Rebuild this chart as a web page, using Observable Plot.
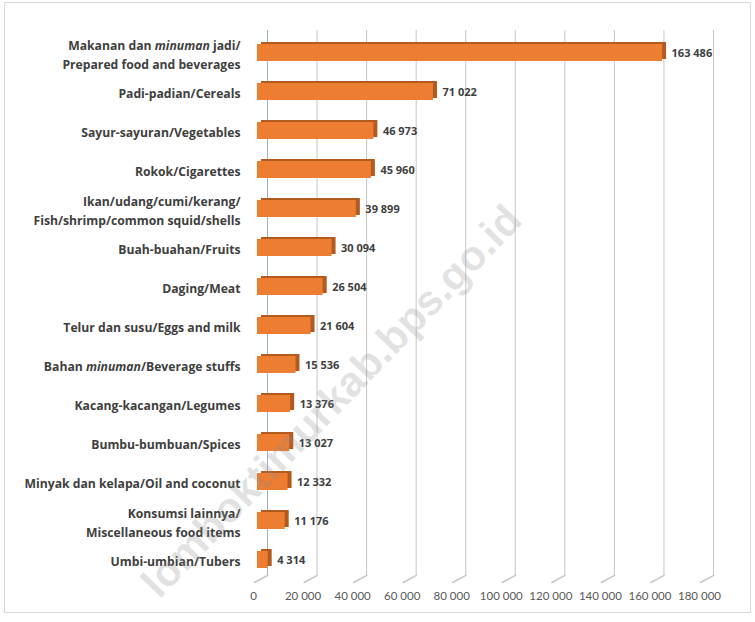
<!DOCTYPE html>
<html><head><meta charset="utf-8">
<script src="https://cdn.jsdelivr.net/npm/d3@7"></script>
<script src="https://cdn.jsdelivr.net/npm/@observablehq/plot@0.6"></script>
<style>
body{margin:0;background:#fff;}
#wrap{position:relative;width:755px;height:622px;overflow:hidden;}
#border{position:absolute;left:4px;top:2px;width:747px;height:611px;border:1px solid #d9d9d9;box-sizing:border-box;pointer-events:none}
#wm{position:absolute;left:0;top:0;pointer-events:none}
</style></head><body>
<div id="wrap"><div id="chart"></div><div id="border"></div>
<svg id="wm" width="755" height="622"><text x="524" y="222" text-anchor="end" transform="rotate(-46,524,222)" font-family="Liberation Sans, Arial" font-weight="bold" font-size="42" fill="rgba(140,140,140,0.25)">lomboktimurkab.bps.go.id</text></svg>
</div>
<script>
const categories = [
  "Makanan dan minuman jadi/\nPrepared food and beverages",
  "Padi-padian/Cereals",
  "Sayur-sayuran/Vegetables",
  "Rokok/Cigarettes",
  "Ikan/udang/cumi/kerang/\nFish/shrimp/common squid/shells",
  "Buah-buahan/Fruits",
  "Daging/Meat",
  "Telur dan susu/Eggs and milk",
  "Bahan minuman/Beverage stuffs",
  "Kacang-kacangan/Legumes",
  "Bumbu-bumbuan/Spices",
  "Minyak dan kelapa/Oil and coconut",
  "Konsumsi lainnya/\nMiscellaneous food items",
  "Umbi-umbian/Tubers"
];
const values = [163486, 71022, 46973, 45960, 39899, 30094, 26504, 21604, 15536, 13376, 13027, 12332, 11176, 4314];
const xTicks = [0, 20000, 40000, 60000, 80000, 100000, 120000, 140000, 160000, 180000];

const data = categories.map((c, i) => ({category: c, value: values[i]}));
const fmt = v => d3.format(",")(v).replace(/,/g, " ");

const plot = Plot.plot({
  width: 755, height: 622,
  marginLeft: 257, marginRight: 52, marginTop: 32, marginBottom: 42,
  style: {fontFamily: "Lato, sans-serif", background: "transparent", color: "#595959", fontSize: "11.5px"},
  x: {domain: [0, 180000], label: null},
  y: {domain: categories, axis: null, paddingInner: 0.56, paddingOuter: 0.29},
  marks: [
    Plot.ruleX(xTicks.filter(d => d !== 0), {dx: 10, stroke: "#c6c6c6", insetTop: -2, insetBottom: 5}),
    Plot.ruleX([0], {dx: 10, stroke: "#9fb2cc", insetTop: -2, insetBottom: 5}),
    Plot.vector(xTicks, {x: d => d, frameAnchor: "bottom", dx: -3, dy: 2, rotate: 62, length: 15, anchor: "start", stroke: "#c6c6c6",
      shape: {draw(ctx, l) { ctx.moveTo(0, 0); ctx.lineTo(0, -l); }}}),
    Plot.barX(data, {y: "category", x: "value", fill: "#b35a1f", dx: 4, dy: -2}),
    Plot.barX(data, {y: "category", x: "value", fill: "#ED7D31"}),
    Plot.text(data, {y: "category", x: "value", text: d => fmt(d.value), dx: 9, textAnchor: "start",
      fontFamily: "Open Sans", fontWeight: "bold", fontSize: 11, fill: "#404040"}),
    Plot.text(data, {y: "category", frameAnchor: "left", text: "category", textAnchor: "end", dx: -17,
      fontFamily: "Open Sans", fontWeight: "bold", fontSize: 12.2, fill: "#404040", lineHeight: 1.55}),
    Plot.axisX(xTicks, {tickSize: 0, tickPadding: 11, tickFormat: fmt, dx: -4, fill: "#595959", fontSize: 11.5})
  ]
});
document.getElementById("chart").appendChild(plot);

// italicise the Indonesian word "minuman" as in the source
d3.select(plot).selectAll("text, tspan").each(function() {
  if (this.children.length === 0 && this.textContent.includes("minuman")) {
    this.innerHTML = this.textContent.replace("minuman", '<tspan font-style="italic">minuman</tspan>');
  }
});
</script>
</body></html>
